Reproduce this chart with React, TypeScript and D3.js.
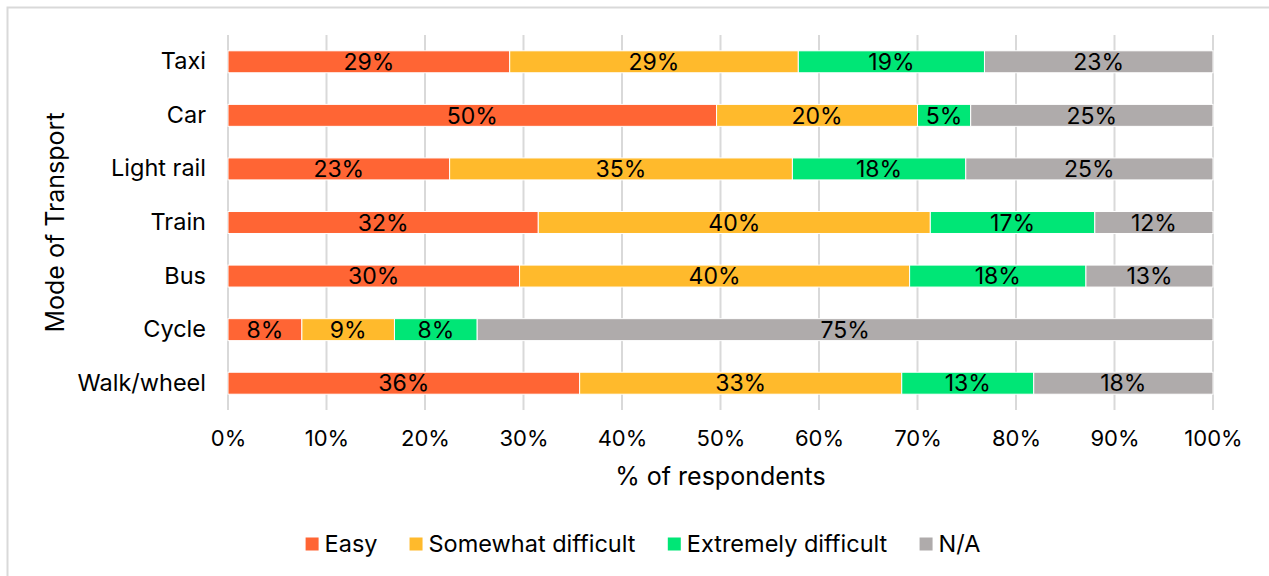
import { useEffect, useRef } from "react";
import * as d3 from "d3";

const modes = ["Taxi", "Car", "Light rail", "Train", "Bus", "Cycle", "Walk/wheel"];
const seriesNames = ["Easy", "Somewhat difficult", "Extremely difficult", "N/A"];
const seriesColors = ["#FF6534", "#FFBA2C", "#00E676", "#AFABAB"];

// shares per mode, in order of modes
const easy = [28.6, 49.6, 22.5, 31.5, 29.6, 7.5, 35.7];
const somewhat = [29.3, 20.4, 34.8, 39.8, 39.6, 9.4, 32.7];
const extremely = [18.9, 5.4, 17.6, 16.7, 17.9, 8.4, 13.4];
const notApplicable = [23.2, 24.6, 25.1, 12.0, 12.9, 74.7, 18.2];

const xTicks = [0, 10, 20, 30, 40, 50, 60, 70, 80, 90, 100];

const FONT = "Inter, 'Open Sans', sans-serif";

export default function App() {
  const svgRef = useRef<SVGSVGElement>(null);
  const width = 1269;
  const height = 576;

  useEffect(() => {
    if (!svgRef.current) return;
    const svg = d3.select(svgRef.current);
    svg.selectAll("*").remove();

    const margin = { top: 35, right: 56, bottom: 166, left: 228 };
    const chartWidth = width - margin.left - margin.right;
    const chartHeight = height - margin.top - margin.bottom;

    // frame
    svg.append("rect")
      .attr("x", 7.5)
      .attr("y", 7.5)
      .attr("width", width + 20)
      .attr("height", height + 20)
      .attr("fill", "white")
      .attr("stroke", "#d9d9d9")
      .attr("stroke-width", 2);

    const rows = modes.map((m, i) => ({
      mode: m,
      values: [easy[i], somewhat[i], extremely[i], notApplicable[i]],
    }));

    const xScale = d3.scaleLinear().domain([0, 100]).range([0, chartWidth]);
    const yScale = d3.scaleBand<string>()
      .domain(modes)
      .range([0, chartHeight])
      .paddingInner(0.59)
      .paddingOuter(0.295);

    const g = svg.append("g")
      .attr("transform", `translate(${margin.left},${margin.top})`);

    // gridlines
    g.append("g")
      .selectAll("line")
      .data(xTicks)
      .join("line")
      .attr("x1", d => xScale(d))
      .attr("x2", d => xScale(d))
      .attr("y1", 0)
      .attr("y2", chartHeight)
      .attr("stroke", "#d9d9d9")
      .attr("stroke-width", 2);

    // x axis
    const xAxis = d3.axisBottom(xScale)
      .tickValues(xTicks)
      .tickFormat(d => `${d}%`)
      .tickSize(0)
      .tickPadding(20);

    g.append("g")
      .attr("transform", `translate(0,${chartHeight})`)
      .call(xAxis)
      .call(a => a.select(".domain").remove())
      .call(a => a.selectAll(".tick text")
        .attr("fill", "#000")
        .attr("font-family", FONT)
        .attr("font-size", "22px"));

    // y axis
    const yAxis = d3.axisLeft(yScale).tickSize(0).tickPadding(22);
    g.append("g")
      .call(yAxis)
      .call(a => a.select(".domain").remove())
      .call(a => a.selectAll(".tick text")
        .attr("fill", "#000")
        .attr("font-family", FONT)
        .attr("font-size", "23.5px"));

    // stacked segments
    const segs = rows.flatMap(r => {
      let acc = 0;
      return r.values.map((v, k) => {
        const s = { mode: r.mode, k, x0: acc, x1: acc + v, v };
        acc += v;
        return s;
      });
    });

    g.append("g")
      .selectAll("rect")
      .data(segs)
      .join("rect")
      .attr("x", d => xScale(d.x0))
      .attr("y", d => yScale(d.mode)!)
      .attr("width", d => xScale(d.x1) - xScale(d.x0))
      .attr("height", yScale.bandwidth())
      .attr("fill", d => seriesColors[d.k])
      .attr("stroke", "white")
      .attr("stroke-width", 1);

    g.append("g")
      .selectAll("text")
      .data(segs)
      .join("text")
      .attr("x", d => xScale((d.x0 + d.x1) / 2))
      .attr("y", d => yScale(d.mode)! + yScale.bandwidth() / 2)
      .attr("dy", "0.36em")
      .attr("text-anchor", "middle")
      .attr("font-family", FONT)
      .attr("font-size", "23px")
      .attr("fill", "#000")
      .text(d => `${Math.round(d.v)}%`);

    // axis titles
    svg.append("text")
      .attr("x", margin.left + chartWidth / 2)
      .attr("y", 476)
      .attr("dy", "0.36em")
      .attr("text-anchor", "middle")
      .attr("font-family", FONT)
      .attr("font-size", "25px")
      .attr("fill", "#000")
      .text("% of respondents");

    svg.append("text")
      .attr("transform", `translate(55,${margin.top + chartHeight / 2}) rotate(-90)`)
      .attr("dy", "0.36em")
      .attr("text-anchor", "middle")
      .attr("font-family", FONT)
      .attr("font-size", "25px")
      .attr("fill", "#000")
      .text("Mode of Transport");

    // legend
    const legend = svg.append("g").attr("transform", "translate(0,544)");
    const items = legend.selectAll("g")
      .data(seriesNames)
      .join("g");
    items.append("rect")
      .attr("y", -6.5)
      .attr("width", 13)
      .attr("height", 13)
      .attr("fill", (_, i) => seriesColors[i]);
    items.append("text")
      .attr("x", 19)
      .attr("dy", "0.36em")
      .attr("font-family", FONT)
      .attr("font-size", "23.5px")
      .attr("fill", "#000")
      .text(d => d);

    const widths: number[] = [];
    items.each(function () {
      widths.push((this as SVGGElement).getBBox().width);
    });
    const gap = 32;
    const total = d3.sum(widths) + gap * (widths.length - 1);
    let cx = 643 - total / 2;
    items.attr("transform", (_, i) => {
      const t = `translate(${cx},0)`;
      cx += widths[i] + gap;
      return t;
    });
  }, []);

  return (
    <div style={{ position: "fixed", left: 0, top: 0, background: "white" }}>
      <svg ref={svgRef} width={width} height={height} style={{ display: "block" }} />
    </div>
  );
}
